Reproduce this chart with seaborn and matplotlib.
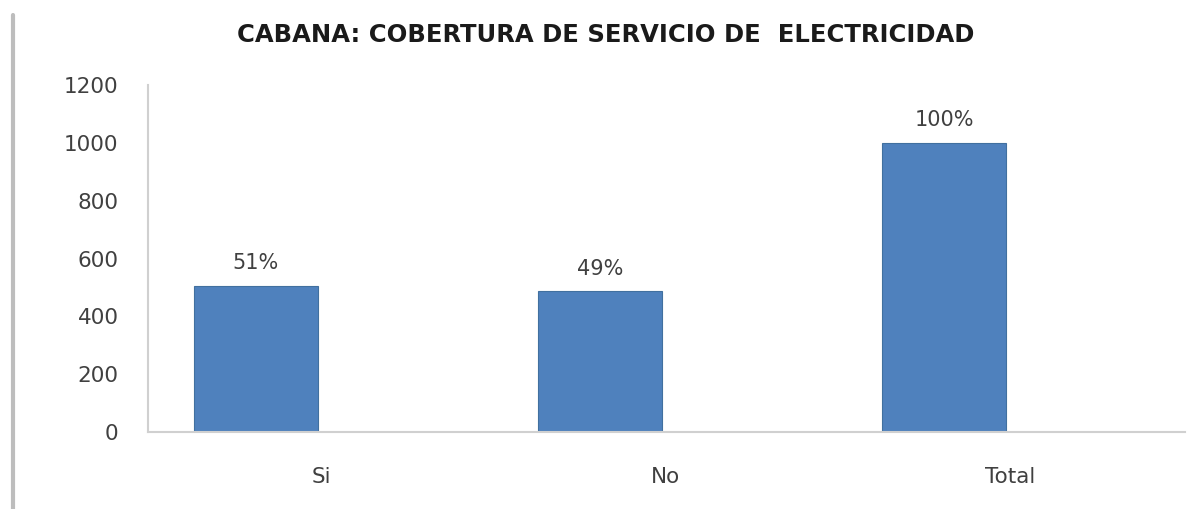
import matplotlib
matplotlib.use("Agg")
import matplotlib.pyplot as plt
import seaborn as sns
import pandas as pd
from matplotlib.lines import Line2D

categories = ["Si", "No", "Total"]
values = [506, 487, 1000]
pct_labels = ["51%", "49%", "100%"]
yticks = [0, 200, 400, 600, 800, 1000, 1200]
title = "CABANA: COBERTURA DE SERVICIO DE  ELECTRICIDAD"

sns.set_theme(style="white")
plt.rcParams['font.family'] = ['DejaVu Sans']

df = pd.DataFrame({"cat": categories, "val": values})

fig = plt.figure(figsize=(12.02, 5.09), dpi=100)
ax = fig.add_axes([0.123, 0.151, 0.863, 0.682])
sns.barplot(data=df, x="cat", y="val", color="#4F81BD", saturation=1,
            width=0.36, ax=ax, edgecolor="#41709f", linewidth=0.8)

ax.set_ylim(0, 1200)
ax.set_xlim(-0.314, 2.70)
ax.set_yticks(yticks)
ax.set_yticklabels([str(t) for t in yticks], fontsize=15.5, color="#404040")
ax.set_xticks([i + 0.19 for i in range(len(categories))])
ax.set_xticklabels(categories, fontsize=15.5, color="#404040")
ax.tick_params(axis="y", length=0, pad=21)
ax.tick_params(axis="x", length=0, pad=25)
ax.set_xlabel("")
ax.set_ylabel("")

for s in ["top", "right"]:
    ax.spines[s].set_visible(False)
for s in ["left", "bottom"]:
    ax.spines[s].set_color("#d0d0d0")
    ax.spines[s].set_linewidth(1.5)

for cont in ax.containers:
    ax.bar_label(cont, labels=pct_labels, padding=9, fontsize=15, color="#404040")

fig.text(0.504, 0.931, title, ha="center", va="center", fontsize=17.5,
         fontweight="bold", color="#1a1a1a")

fig.add_artist(Line2D([0.011, 0.011], [0.0, 0.97], transform=fig.transFigure,
                      color="#bdbdbd", linewidth=3))

fig.savefig("out.png", dpi=100)
